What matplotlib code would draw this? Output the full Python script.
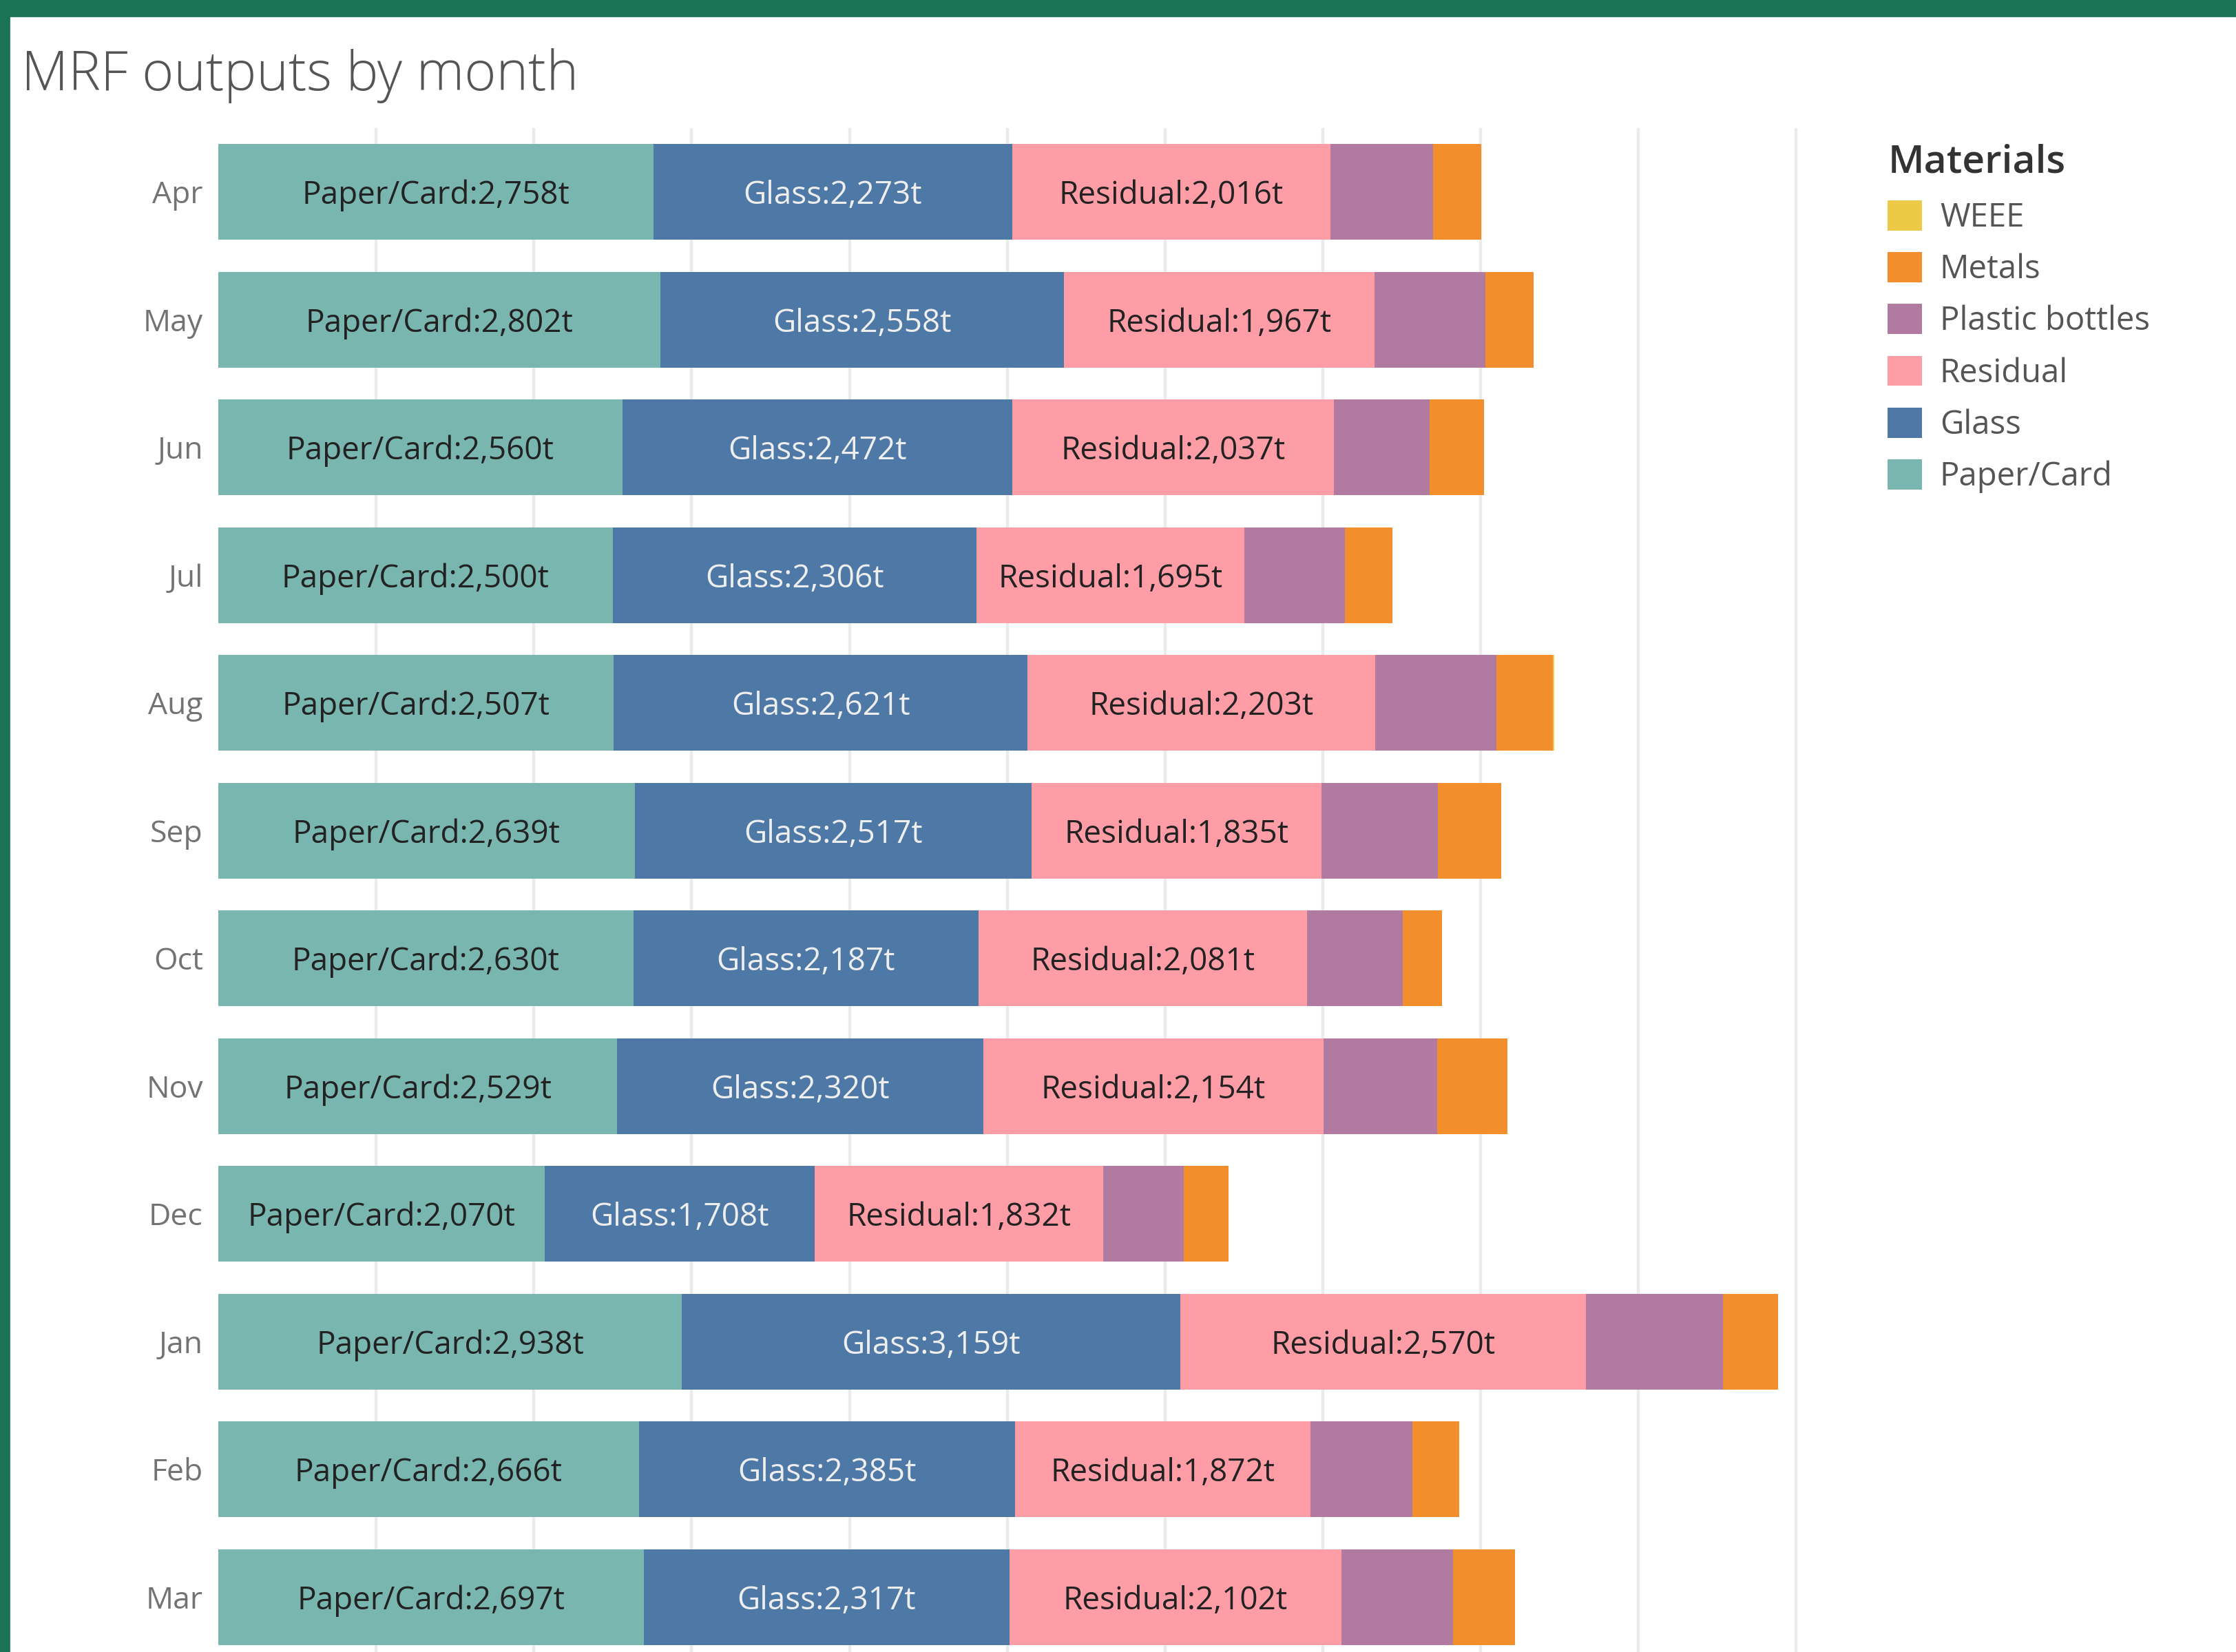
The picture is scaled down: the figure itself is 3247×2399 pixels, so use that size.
import numpy as np
import matplotlib.pyplot as plt
from matplotlib.patches import Patch, Rectangle

plt.rcParams["font.family"] = ["Open Sans", "DejaVu Sans"]

months = ["Apr", "May", "Jun", "Jul", "Aug", "Sep", "Oct", "Nov", "Dec", "Jan", "Feb", "Mar"]
paper_card = [2758, 2802, 2560, 2500, 2507, 2639, 2630, 2529, 2070, 2938, 2666, 2697]
glass = [2273, 2558, 2472, 2306, 2621, 2517, 2187, 2320, 1708, 3159, 2385, 2317]
residual = [2016, 1967, 2037, 1695, 2203, 1835, 2081, 2154, 1832, 2570, 1872, 2102]
plastic_bottles = [653, 704, 609, 638, 770, 740, 608, 722, 509, 871, 643, 708]
metals = [303, 303, 343, 300, 359, 400, 248, 447, 284, 347, 298, 394]
weee = [0, 0, 0, 0, 6, 0, 0, 0, 0, 0, 0, 0]

materials = ["Paper/Card", "Glass", "Residual", "Plastic bottles", "Metals", "WEEE"]
series = [paper_card, glass, residual, plastic_bottles, metals, weee]
colors = ["#79b6b0", "#4e79a6", "#ff9da6", "#b07aa1", "#f28e2c", "#edc948"]
label_colors = {"Paper/Card": "#222222", "Glass": "#eeeeee", "Residual": "#222222"}

fig = plt.figure(figsize=(16.24, 11.995), dpi=200)
fig.patch.set_facecolor("white")

# dashboard frame
fig.patches.append(Rectangle((0, 0.9904), 1, 0.0096, transform=fig.transFigure,
                             color="#1a7354", zorder=0))
fig.patches.append(Rectangle((0, 0), 0.0040, 1, transform=fig.transFigure,
                             color="#1a7354", zorder=0))

ax = fig.add_axes([0.0976, -0.0054, 0.7231, 0.9279])

y = np.arange(len(months))
left = np.zeros(len(months))
for name, vals, col in zip(materials, series, colors):
    vals = np.array(vals, dtype=float)
    ax.barh(y, vals, left=left, height=0.75, color=col, edgecolor="none", zorder=2)
    if name in label_colors:
        for yi, l, v in zip(y, left, vals):
            ax.text(l + v / 2, yi, f"{name}:{int(v):,}t", ha="center", va="center_baseline",
                    fontsize=16.5, color=label_colors[name], zorder=3)
    left += vals

ax.set_xlim(0, 10250)
ax.set_ylim(len(months) - 0.5, -0.5)
ax.set_xticks(np.arange(1000, 10001, 1000))
ax.xaxis.grid(True, color="#ebebeb", linewidth=1.6, zorder=0)
ax.set_axisbelow(True)
ax.tick_params(axis="x", which="both", length=0, labelbottom=False)
ax.tick_params(axis="y", length=0, pad=8)
ax.set_yticks(y)
ax.set_yticklabels(months, fontsize=16, color="#737373")
for s in ax.spines.values():
    s.set_visible(False)

fig.text(0.0096, 0.9456, "MRF outputs by month", fontsize=28.4, color="#555555",
         fontweight="light", ha="left", va="baseline")

handles = [Patch(facecolor=c, edgecolor="none") for c in colors[::-1]]
leg = fig.legend(handles, materials[::-1], loc="upper left", bbox_to_anchor=(0.844, 0.913),
                 frameon=False, fontsize=17, title="Materials", handlelength=1.05,
                 handleheight=1.05, handletextpad=0.55, labelspacing=0.555,
                 alignment="left", borderaxespad=0, borderpad=0)
leg.get_title().set_fontsize(20.5)
leg.get_title().set_fontweight("semibold")
leg.get_title().set_color("#333333")
for t in leg.get_texts():
    t.set_color("#555555")

fig.savefig("out.png", dpi=200)
